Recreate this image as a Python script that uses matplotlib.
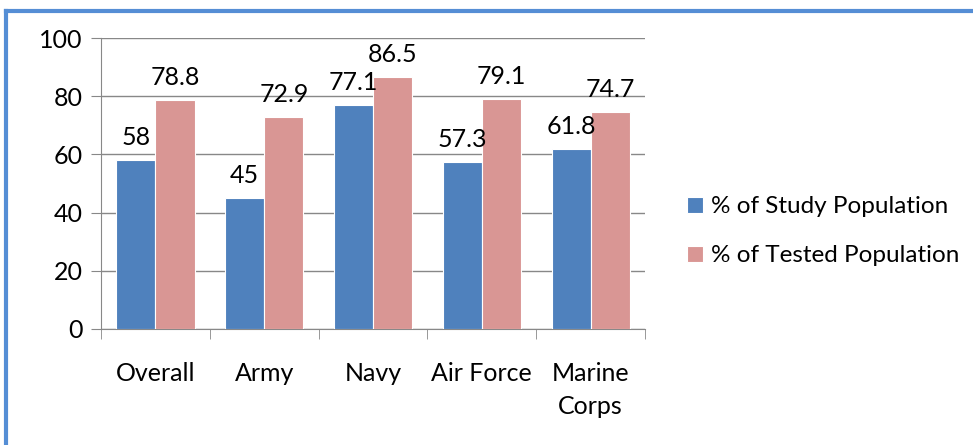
import matplotlib.pyplot as plt
import numpy as np
from matplotlib.lines import Line2D

categories = ['Overall', 'Army', 'Navy', 'Air Force', 'Marine\nCorps']
study_pop = [58, 45, 77.1, 57.3, 61.8]
tested_pop = [78.8, 72.9, 86.5, 79.1, 74.7]
study_labels = ['58', '45', '77.1', '57.3', '61.8']
tested_labels = ['78.8', '72.9', '86.5', '79.1', '74.7']
series_names = ['% of Study Population', '% of Tested Population']

plt.rcParams['font.family'] = ['Lato', 'DejaVu Sans']

fig = plt.figure(figsize=(9.73, 4.45), dpi=100)

# blue frame
fig.add_artist(Line2D([0.006, 1.0], [0.975, 0.975], color='#558ed5', lw=3))
fig.add_artist(Line2D([0.006, 0.006], [0.0, 0.975], color='#558ed5', lw=3))

ax = fig.add_axes([0.1038, 0.2607, 0.5592, 0.6539])

x = np.arange(len(categories))
w = 0.36
b1 = ax.bar(x - w / 2, study_pop, w, color='#4f81bd', edgecolor='white', linewidth=0.8,
            label=series_names[0], zorder=3)
b2 = ax.bar(x + w / 2, tested_pop, w, color='#d99694', edgecolor='white', linewidth=0.8,
            label=series_names[1], zorder=3)

fs = 18
for bars, labels in [(b1, study_labels), (b2, tested_labels)]:
    for rect, lab in zip(bars, labels):
        ax.annotate(lab, (rect.get_x() + rect.get_width() / 2, rect.get_height()),
                    xytext=(0, 8), textcoords='offset points', ha='center', va='bottom',
                    fontsize=fs)

ax.set_xlim(-0.5, len(categories) - 0.5)
ax.set_ylim(0, 100)
ax.set_yticks(range(0, 101, 20))
ax.tick_params(axis='y', labelsize=fs, length=7, color='#888888', pad=6)
ax.grid(axis='y', color='#888888', lw=1, zorder=0)

ax.set_xticks(x)
ax.set_xticklabels(categories, fontsize=fs, va='top', linespacing=1.5)
ax.tick_params(axis='x', length=0, pad=24)
ax.set_xticks(np.arange(-0.5, len(categories)), minor=True)
ax.tick_params(axis='x', which='minor', length=7, color='#888888')

for s in ['top', 'right']:
    ax.spines[s].set_visible(False)
for s in ['left', 'bottom']:
    ax.spines[s].set_color('#888888')

ax.legend(loc='center left', bbox_to_anchor=(1.06, 0.336), frameon=False, fontsize=17.5,
          handlelength=0.65, handleheight=0.65, handletextpad=0.3, labelspacing=1.15,
          borderaxespad=0)

plt.savefig('out.png', dpi=100)
